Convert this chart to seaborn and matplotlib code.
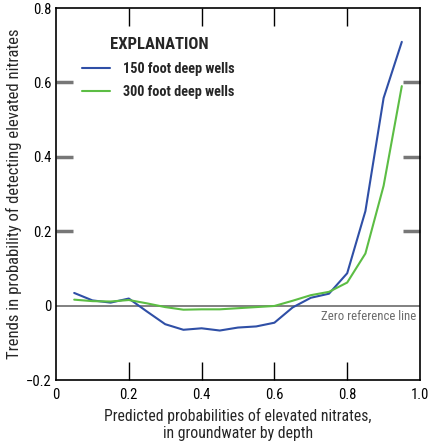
import matplotlib
matplotlib.use("Agg")
import matplotlib.pyplot as plt
import pandas as pd
import seaborn as sns

# predicted probability bins (x)
probs = [0.05, 0.10, 0.15, 0.20, 0.25, 0.30, 0.35, 0.40, 0.45, 0.50,
         0.55, 0.60, 0.65, 0.70, 0.75, 0.80, 0.85, 0.90, 0.95]
trend_150 = [0.034, 0.014, 0.008, 0.019, -0.016, -0.050, -0.065, -0.061, -0.067, -0.059,
             -0.056, -0.046, -0.005, 0.021, 0.032, 0.087, 0.254, 0.558, 0.709]
trend_300 = [0.016, 0.012, 0.011, 0.015, 0.006, -0.004, -0.011, -0.010, -0.010, -0.007,
             -0.004, -0.001, 0.013, 0.028, 0.037, 0.062, 0.140, 0.322, 0.590]
series_names = ["150 foot deep wells", "300 foot deep wells"]
series_colors = ["#2f4fa6", "#5cbd44"]

df = pd.DataFrame({
    "prob": probs * 2,
    "trend": trend_150 + trend_300,
    "series": [series_names[0]] * len(probs) + [series_names[1]] * len(probs),
})

sns.set_theme(style="ticks")
plt.rcParams["font.family"] = ["Roboto Condensed", "Liberation Sans Narrow", "DejaVu Sans"]

fig = plt.figure(figsize=(4.34, 4.43), dpi=100)
ax = fig.add_axes([56 / 434, 1 - 380 / 443, 364 / 434, 372 / 443])

ax.axhline(0, color="#6b6b6b", lw=1.2, zorder=1)
sns.lineplot(data=df, x="prob", y="trend", hue="series", palette=series_colors,
             hue_order=series_names, lw=1.5, ax=ax, zorder=3)

ax.set_xlim(0, 1.0)
ax.set_ylim(-0.2, 0.8)
ax.set_xticks([0, 0.2, 0.4, 0.6, 0.8, 1.0])
ax.set_xticklabels(["0", "0.2", "0.4", "0.6", "0.8", "1.0"])
ax.set_yticks([-0.2, 0, 0.2, 0.4, 0.6, 0.8])
ax.set_yticklabels(["\u22120.2", "0", "0.2", "0.4", "0.6", "0.8"])
ax.tick_params(axis="x", direction="in", length=13, width=1, top=True,
               labelsize=10.5, pad=6, colors="black")
ax.tick_params(axis="y", direction="in", length=12, width=2.5, right=True,
               labelsize=10.5, pad=3, color="#777777", labelcolor="black")
for t in ax.yaxis.get_major_ticks():
    loc = t.get_loc()
    if abs(loc) < 1e-9 or abs(loc + 0.2) < 1e-9 or abs(loc - 0.8) < 1e-9:
        t.tick1line.set_visible(False)
        t.tick2line.set_visible(False)
for t in ax.xaxis.get_major_ticks():
    if t.get_loc() < 1e-9 or t.get_loc() > 0.999:
        t.tick1line.set_visible(False)
        t.tick2line.set_visible(False)
for s in ax.spines.values():
    s.set_visible(True)
    s.set_linewidth(1.2)
    s.set_color("black")

ax.set_xlabel("Predicted probabilities of elevated nitrates,\nin groundwater by depth",
              fontsize=11.3, labelpad=4, linespacing=1.15)
ax.set_ylabel("Trends in probability of detecting elevated nitrates", fontsize=12, labelpad=3)

ax.text(0.99, -0.012, "Zero reference line", ha="right", va="top",
        fontsize=9.2, color="#6b6b6b")

leg = ax.legend(title="EXPLANATION", loc="upper left", bbox_to_anchor=(0.035, 0.957),
                frameon=False, handlelength=2.0, handletextpad=0.9, labelspacing=0.68,
                prop={"weight": "bold", "size": 10.3},
                title_fontproperties={"weight": "bold", "size": 12})
leg._legend_box.align = "left"
leg._legend_box.sep = 7
leg.get_title().set_position((28, 0))

fig.savefig("out.png", dpi=100)
